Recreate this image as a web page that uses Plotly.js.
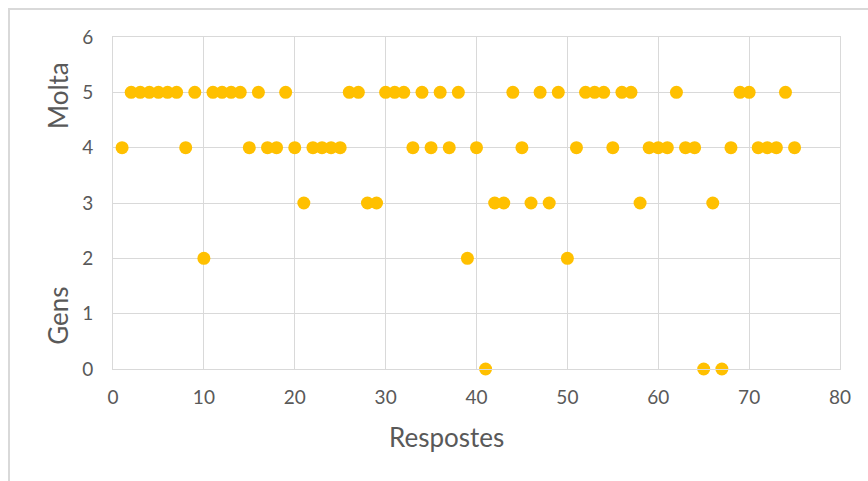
<!DOCTYPE html>
<html>
<head>
<meta charset="utf-8">
<script src="https://cdn.plot.ly/plotly-3.0.1.min.js"></script>
<style>
  html, body { margin: 0; padding: 0; background: #fff; }
  #wrap { position: relative; width: 868px; height: 481px; overflow: hidden; }
  #chart { width: 868px; height: 481px; }
  #frame { position: absolute; left: 8px; top: 8px; width: 880px; height: 500px;
           border: 2px solid #d9d9d9; pointer-events: none; box-sizing: border-box; }
</style>
</head>
<body>
<div id="wrap">
  <div id="chart"></div>
  <div id="frame"></div>
</div>
<script>
const respostes = [];
for (let i = 1; i <= 75; i++) respostes.push(i);
const valors = [
  4, 5, 5, 5, 5, 5, 5, 4, 5, 2,
  5, 5, 5, 5, 4, 5, 4, 4, 5, 4,
  3, 4, 4, 4, 4, 5, 5, 3, 3, 5,
  5, 5, 4, 5, 4, 5, 4, 5, 2, 4,
  0, 3, 3, 5, 4, 3, 5, 3, 5, 2,
  4, 5, 5, 5, 4, 5, 5, 3, 4, 4,
  4, 5, 4, 4, 0, 3, 0, 4, 5, 5,
  4, 4, 4, 5, 4
];
const xTickVals = [0, 10, 20, 30, 40, 50, 60, 70, 80];
const yTickVals = [0, 1, 2, 3, 4, 5, 6];
const xTitle = "Respostes";
const yLabelTop = "Molta";
const yLabelBottom = "Gens";

const font = "Lato, Carlito, 'Open Sans', sans-serif";
const gray = "#595959";

Plotly.newPlot("chart", [{
  type: "scatter",
  mode: "markers",
  x: respostes,
  y: valors,
  cliponaxis: false,
  marker: { size: 13, color: "#FFC000", line: { width: 0 } }
}], {
  width: 868, height: 481,
  margin: { l: 113, r: 28, t: 37, b: 112 },
  paper_bgcolor: "#ffffff",
  plot_bgcolor: "#ffffff",
  showlegend: false,
  font: { family: font, color: gray, size: 19 },
  xaxis: {
    range: [0, 80], tickvals: xTickVals, ticks: "",
    showgrid: true, gridcolor: "#d9d9d9", gridwidth: 1,
    showline: true, linecolor: "#d9d9d9", linewidth: 1, mirror: true,
    zeroline: false, ticklabelstandoff: 11,
    tickfont: { family: font, size: 19, color: gray }
  },
  yaxis: {
    range: [0, 6], tickvals: yTickVals, ticks: "",
    showgrid: true, gridcolor: "#d9d9d9", gridwidth: 1,
    showline: true, linecolor: "#d9d9d9", linewidth: 1, mirror: true,
    zeroline: false, ticklabelstandoff: 15,
    tickfont: { family: font, size: 19, color: gray }
  },
  annotations: [
    { text: xTitle, xref: "paper", yref: "paper", x: 0.459, y: -0.205,
      xanchor: "center", yanchor: "middle", showarrow: false,
      font: { family: font, size: 26, color: gray } },
    { text: yLabelTop, xref: "paper", yref: "paper", x: -0.0757, y: 0.825,
      xanchor: "center", yanchor: "middle", textangle: -90, showarrow: false,
      font: { family: font, size: 26, color: gray } },
    { text: yLabelBottom, xref: "paper", yref: "paper", x: -0.0757, y: 0.160,
      xanchor: "center", yanchor: "middle", textangle: -90, showarrow: false,
      font: { family: font, size: 26, color: gray } }
  ]
}, { displayModeBar: false, staticPlot: true });
</script>
</body>
</html>
